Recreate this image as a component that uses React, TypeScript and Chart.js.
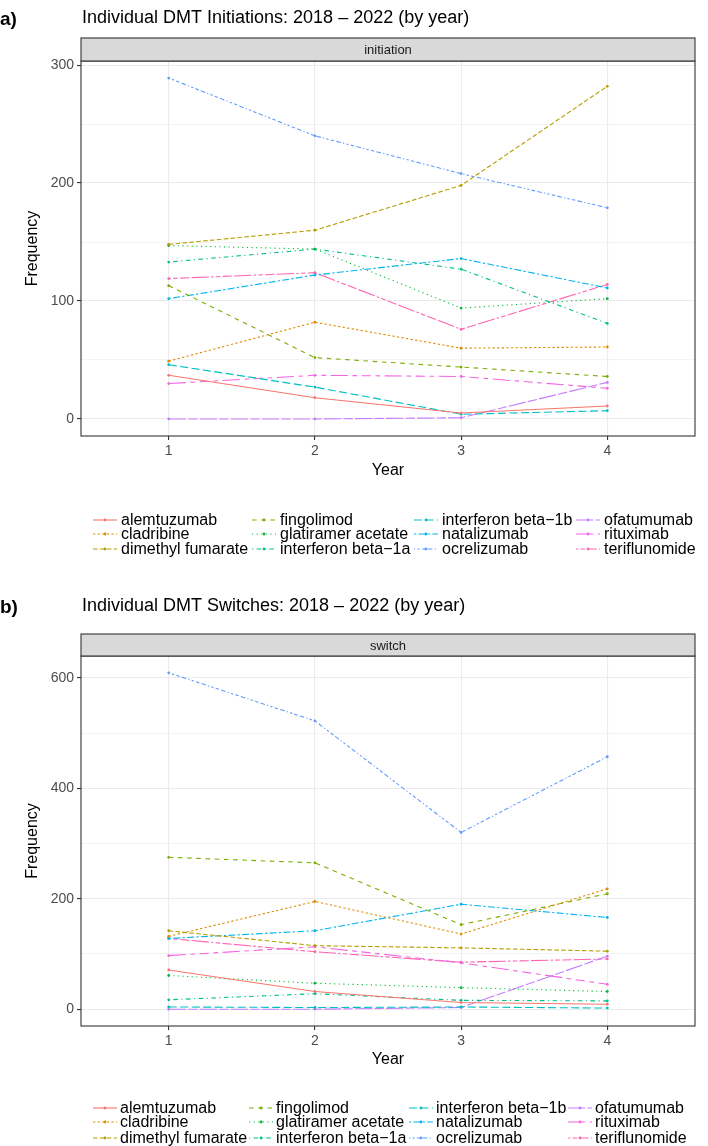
import React, { useEffect, useRef } from "react";
import { Chart, registerables } from "chart.js";

Chart.register(...registerables);

// ---------------- data ----------------
const seriesNames = [
  "alemtuzumab",
  "cladribine",
  "dimethyl fumarate",
  "fingolimod",
  "glatiramer acetate",
  "interferon beta\u22121a",
  "interferon beta\u22121b",
  "natalizumab",
  "ocrelizumab",
  "ofatumumab",
  "rituximab",
  "teriflunomide",
];

const years = [1, 2, 3, 4];
const yearLabels = ["1", "2", "3", "4"];

// initiation counts per year (series order as seriesNames)
const initAlemtuzumab = [37, 18, 5, 11];
const initCladribine = [49, 82, 60, 61];
const initDimethylFumarate = [148, 160, 198, 282];
const initFingolimod = [113, 52, 44, 36];
const initGlatiramer = [147, 144, 94, 102];
const initIfnB1a = [133, 144, 127, 81];
const initIfnB1b = [46, 27, 4, 7];
const initNatalizumab = [102, 122, 136, 111];
const initOcrelizumab = [289, 240, 208, 179];
const initOfatumumab = [0, 0, 1, 31];
const initRituximab = [30, 37, 36, 26];
const initTeriflunomide = [119, 124, 76, 114];

// switch counts per year
const swAlemtuzumab = [71, 32, 12, 9];
const swCladribine = [132, 195, 136, 218];
const swDimethylFumarate = [142, 115, 111, 105];
const swFingolimod = [275, 265, 153, 209];
const swGlatiramer = [61, 47, 39, 32];
const swIfnB1a = [17, 28, 16, 15];
const swIfnB1b = [4, 3, 4, 2];
const swNatalizumab = [128, 142, 190, 166];
const swOcrelizumab = [609, 522, 320, 457];
const swOfatumumab = [0, 0, 3, 96];
const swRituximab = [97, 113, 84, 45];
const swTeriflunomide = [128, 104, 85, 91];

const initiationValues = [
  initAlemtuzumab, initCladribine, initDimethylFumarate, initFingolimod,
  initGlatiramer, initIfnB1a, initIfnB1b, initNatalizumab,
  initOcrelizumab, initOfatumumab, initRituximab, initTeriflunomide,
];
const switchValues = [
  swAlemtuzumab, swCladribine, swDimethylFumarate, swFingolimod,
  swGlatiramer, swIfnB1a, swIfnB1b, swNatalizumab,
  swOcrelizumab, swOfatumumab, swRituximab, swTeriflunomide,
];

const initiationMajorTicks = [0, 100, 200, 300];
const initiationMinorTicks = [50, 150, 250];
const switchMajorTicks = [0, 200, 400, 600];
const switchMinorTicks = [100, 300, 500];

const titleA = "Individual DMT Initiations: 2018 \u2013 2022 (by year)";
const titleB = "Individual DMT Switches: 2018 \u2013 2022 (by year)";

// ---------------- styles ----------------
const seriesColors = [
  "#F8766D", "#DE8C00", "#B79F00", "#7CAE00", "#00BA38", "#00C08B",
  "#00BFC4", "#00B4F0", "#619CFF", "#C77CFF", "#F564E3", "#FF64B0",
];
const dashPatterns = [
  [], [2, 2], [4, 2], [4, 4], [1, 3], [1, 3, 4, 3],
  [7, 3], [2, 2, 6, 2], [1, 2, 2, 2, 3, 2, 4, 2], [15, 2, 8, 2],
  [15, 4, 4, 4, 8, 4, 4, 4], [2, 2, 4, 2, 8, 2, 15, 2],
];
const DASH_UNIT = 1.15;
const FONT = '"Liberation Sans", Arial, Helvetica, sans-serif';
const PANEL_LEFT = 81;
const PANEL_RIGHT = 695;
const X_AXIS_H = 25;

type PanelProps = {
  tag: string;
  title: string;
  strip: string;
  values: number[][];
  major: number[];
  minor: number[];
  H: number;
  titleY: number;
  stripTop: number;
  panelTop: number;
  panelBottom: number;
  yearY: number;
  legendRows: number[];
  legendCols: number[];
  legendTextOffset: number;
};

function Panel(p: PanelProps) {
  const ref = useRef<HTMLCanvasElement | null>(null);

  useEffect(() => {
    const canvas = ref.current;
    if (!canvas) return;
    const all = p.values.flat();
    const lo = Math.min(...all);
    const hi = Math.max(...all);
    const span = hi - lo;
    const yMin = lo - span * 0.05;
    const yMax = hi + span * 0.05;
    const allTicks = [...p.major, ...p.minor].sort((a, b) => a - b);

    const decor = {
      id: "decor",
      beforeDraw(chart: any) {
        const ctx = chart.ctx;
        ctx.save();
        ctx.fillStyle = "#ffffff";
        ctx.fillRect(0, 0, chart.width, chart.height);
        ctx.restore();
      },
      afterDraw(chart: any) {
        const ctx = chart.ctx as CanvasRenderingContext2D;
        const ca = chart.chartArea;
        ctx.save();
        // panel border
        ctx.strokeStyle = "#333333";
        ctx.lineWidth = 1.1;
        ctx.strokeRect(ca.left, ca.top, ca.right - ca.left, ca.bottom - ca.top);
        // strip
        ctx.fillStyle = "#D9D9D9";
        ctx.fillRect(ca.left, p.stripTop, ca.right - ca.left, ca.top - p.stripTop);
        ctx.strokeRect(ca.left, p.stripTop, ca.right - ca.left, ca.top - p.stripTop);
        ctx.fillStyle = "#1A1A1A";
        ctx.font = `13px ${FONT}`;
        ctx.textAlign = "center";
        ctx.textBaseline = "middle";
        ctx.fillText(p.strip, (ca.left + ca.right) / 2, (p.stripTop + ca.top) / 2 + 1);
        // tag and title
        ctx.fillStyle = "#000000";
        ctx.textAlign = "left";
        ctx.font = `bold 19px ${FONT}`;
        ctx.fillText(p.tag, 0, p.titleY + 2);
        ctx.font = `18px ${FONT}`;
        ctx.fillText(p.title, ca.left + 1, p.titleY);
        // axis titles
        ctx.font = `16px ${FONT}`;
        ctx.textAlign = "center";
        ctx.fillText("Year", (ca.left + ca.right) / 2, p.yearY);
        ctx.save();
        ctx.translate(33, (ca.top + ca.bottom) / 2);
        ctx.rotate(-Math.PI / 2);
        ctx.fillText("Frequency", 0, 0);
        ctx.restore();
        // legend (column-major, 3 rows x 4 cols)
        const KEY_W = 24;
        ctx.font = `16px ${FONT}`;
        const nRows = 3;
        for (let idx = 0; idx < seriesNames.length; idx++) {
          const c = Math.floor(idx / nRows);
          const r = idx % nRows;
          const x = p.legendCols[c];
          const y = p.legendRows[r];
          ctx.strokeStyle = seriesColors[idx];
          ctx.lineWidth = 1.1;
          ctx.setLineDash(dashPatterns[idx].map((d) => d * DASH_UNIT));
          ctx.beginPath();
          ctx.moveTo(x, y);
          ctx.lineTo(x + KEY_W, y);
          ctx.stroke();
          ctx.setLineDash([]);
          ctx.fillStyle = seriesColors[idx];
          ctx.beginPath();
          ctx.arc(x + KEY_W / 2, y, 1.4, 0, Math.PI * 2);
          ctx.fill();
          ctx.fillStyle = "#000000";
          ctx.textAlign = "left";
          ctx.textBaseline = "middle";
          ctx.fillText(seriesNames[idx], x + p.legendTextOffset, y + 1);
        }
        ctx.restore();
      },
    };

    const chart = new Chart(canvas, {
      type: "line",
      data: {
        datasets: seriesNames.map((name, i) => ({
          label: name,
          data: p.values[i].map((v, j) => ({ x: years[j], y: v })),
          borderColor: seriesColors[i],
          backgroundColor: seriesColors[i],
          borderWidth: 1.1,
          borderDash: dashPatterns[i].map((d) => d * DASH_UNIT),
          pointRadius: 1.4,
          pointBorderWidth: 0,
          pointHoverRadius: 1.4,
          tension: 0,
          fill: false,
        })),
      },
      options: {
        responsive: false,
        animation: false,
        devicePixelRatio: 1,
        events: [],
        layout: {
          padding: {
            top: p.panelTop,
            right: 708 - PANEL_RIGHT,
            bottom: p.H - p.panelBottom - X_AXIS_H,
            left: 0,
          },
        },
        plugins: {
          legend: { display: false },
          title: { display: false },
          tooltip: { enabled: false },
        },
        scales: {
          x: {
            type: "linear",
            min: 0.4,
            max: 4.6,
            afterBuildTicks: (s: any) => {
              s.ticks = years.map((v) => ({ value: v }));
            },
            afterFit: (s: any) => {
              s.height = X_AXIS_H;
            },
            ticks: {
              autoSkip: false,
              maxRotation: 0,
              padding: 3,
              color: "#4D4D4D",
              font: { family: FONT, size: 14 },
              callback: (v: any) => {
                const k = years.indexOf(Number(v));
                return k >= 0 ? yearLabels[k] : "";
              },
            },
            grid: {
              color: "#EBEBEB",
              lineWidth: 1.1,
              tickColor: "#333333",
              tickLength: 4,
              drawTicks: true,
            },
            border: { display: false },
          },
          y: {
            type: "linear",
            min: yMin,
            max: yMax,
            afterBuildTicks: (s: any) => {
              s.ticks = allTicks.map((v) => ({ value: v }));
            },
            afterFit: (s: any) => {
              s.width = PANEL_LEFT;
            },
            ticks: {
              autoSkip: false,
              padding: 3,
              color: "#4D4D4D",
              font: { family: FONT, size: 14 },
              callback: (v: any) => (p.major.includes(Number(v)) ? String(v) : ""),
            },
            grid: {
              color: "#EBEBEB",
              lineWidth: (c: any) => (p.major.includes(c.tick?.value) ? 1.1 : 0.6),
              tickColor: (c: any) =>
                p.major.includes(c.tick?.value) ? "#333333" : "rgba(0,0,0,0)",
              tickLength: 4,
              drawTicks: true,
            },
            border: { display: false },
          },
        },
      } as any,
      plugins: [decor],
    });
    return () => chart.destroy();
  }, []);

  return (
    <canvas
      ref={ref}
      width={708}
      height={p.H}
      style={{ display: "block", width: 708, height: p.H }}
    />
  );
}

export default function App() {
  return (
    <div
      style={{
        position: "absolute",
        left: 0,
        top: 0,
        width: 708,
        height: 1146,
        background: "#ffffff",
      }}
    >
      <Panel
        tag="a)"
        title={titleA}
        strip="initiation"
        values={initiationValues}
        major={initiationMajorTicks}
        minor={initiationMinorTicks}
        H={588}
        titleY={18}
        stripTop={38}
        panelTop={61}
        panelBottom={436}
        yearY={471}
        legendRows={[520, 534, 549]}
        legendCols={[93, 252, 414, 576]}
        legendTextOffset={28}
      />
      <Panel
        tag="b)"
        title={titleB}
        strip="switch"
        values={switchValues}
        major={switchMajorTicks}
        minor={switchMinorTicks}
        H={558}
        titleY={18}
        stripTop={46}
        panelTop={68}
        panelBottom={438}
        yearY={472}
        legendRows={[520, 534, 550]}
        legendCols={[93, 249, 409, 568]}
        legendTextOffset={27}
      />
    </div>
  );
}
